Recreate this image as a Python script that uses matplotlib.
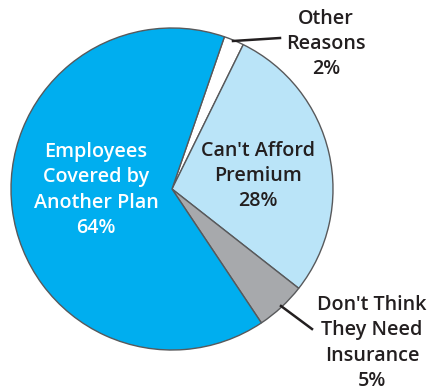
import matplotlib.pyplot as plt

# Reasons employees decline coverage (percent)
reasons = ["Other\nReasons", "Can't Afford\nPremium", "Don't Think\nThey Need\nInsurance",
           "Employees\nCovered by\nAnother Plan"]
shares = [2, 28, 5, 64]
colors = ["#FFFFFF", "#BAE4F8", "#A7A9AC", "#00AEEF"]

fig = plt.figure(figsize=(4.33, 3.92), dpi=100)
ax = fig.add_axes([0, 0, 1, 1])

cx, cy, r = 172, 203, 161
wedges, _ = ax.pie(shares, colors=colors, startangle=71, counterclock=False,
                   center=(cx, cy), radius=r, frame=True,
                   wedgeprops=dict(edgecolor="#58595B", linewidth=1.0))
ax.set_xlim(0, 433)
ax.set_ylim(0, 392)
ax.set_aspect("equal")
ax.axis("off")

font = dict(family=["Open Sans", "DejaVu Sans"], weight="semibold", fontsize=14.2,
            ha="center", va="center", linespacing=1.36)

def label(i):
    return f"{reasons[i]}\n{shares[i]}%"

# labels inside the two large slices
ax.text(96, 392 - 190, label(3), color="white", **font)
ax.text(258, 392 - 176, label(1), color="#231F20", **font)

# outside labels with leader lines
ax.text(326, 392 - 44, label(0), color="#231F20", **font)
ax.plot([233, 280], [392 - 41, 392 - 38], color="#231F20", lw=1.8)
ax.text(372, 392 - 343, label(2), color="#231F20", **font)
ax.plot([281, 312], [392 - 306, 392 - 329], color="#231F20", lw=1.8)

fig.savefig("out.png", dpi=100)
